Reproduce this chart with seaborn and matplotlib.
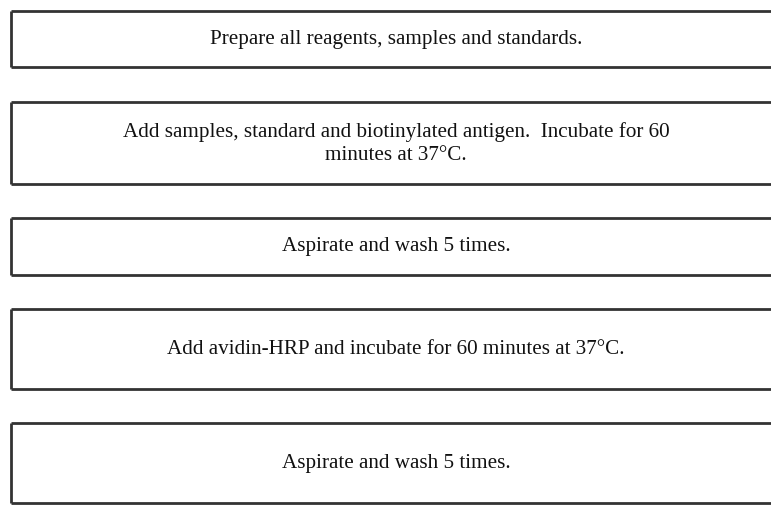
import matplotlib
matplotlib.use('Agg')
import matplotlib.pyplot as plt
import seaborn as sns

# ── Data: assay steps ────────────────────────────────────────────────────────
steps = [
    'Prepare all reagents, samples and standards.',
    'Add samples, standard and biotinylated antigen.  Incubate for 60\nminutes at 37°C.',
    'Aspirate and wash 5 times.',
    'Add avidin-HRP and incubate for 60 minutes at 37°C.',
    'Aspirate and wash 5 times.',
]

# ── Layout (pixel coords, y from top) ───────────────────────────────────────
box_top    = [10.5, 101.5, 217.5, 308.5, 422.5]
box_bottom = [66.5, 183.5, 274.5, 388.5, 502.5]
text_y     = [39.5, 143.5, 247.0, 349.5, 463.5]
left_x  = 11.3
right_x = 790
text_x  = 396

sns.set_style('white')
plt.rcParams['font.family'] = ['Liberation Serif', 'DejaVu Serif']

fig = plt.figure(figsize=(7.71, 5.28), dpi=100)
ax = fig.add_axes([0, 0, 1, 1])
ax.set_xlim(0, 771)
ax.set_ylim(528, 0)
ax.axis('off')

col = '#333333'
lw = 2.0
for txt, top, bot, ty in zip(steps, box_top, box_bottom, text_y):
    ax.hlines([top, bot], left_x, right_x, colors=col, linewidth=lw)
    ax.vlines(left_x, top, bot, colors=col, linewidth=lw)
    ax.text(text_x, ty, txt, ha='center', va='center', fontsize=15.2,
            color='#111111', linespacing=1.32)

fig.savefig('out.png', dpi=100)
plt.close(fig)
